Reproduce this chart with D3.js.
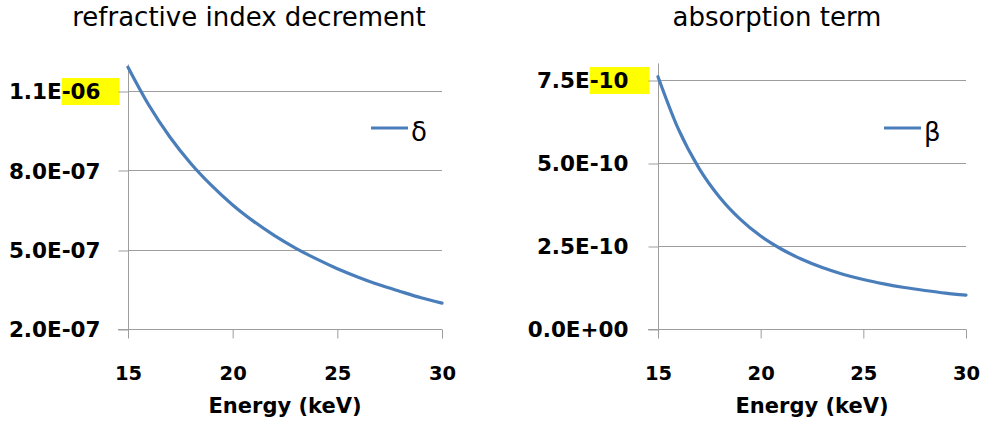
<!DOCTYPE html>
<html>
<head>
<meta charset="utf-8">
<script src="https://cdn.jsdelivr.net/npm/d3@7"></script>
<style>
  body { margin: 0; background: #fff; }
  svg { display: block; }
</style>
</head>
<body>
<div id="chart"></div>
<script>
// energies in keV (x axis of both panels)
const energy = [15, 16, 17, 18, 19, 20, 21, 22, 23, 24, 25, 26, 27, 28, 29, 30];

// delta
const delta = [1.190e-6, 1.046e-6, 0.926e-6, 0.826e-6, 0.742e-6, 0.669e-6, 0.607e-6, 0.553e-6,
  0.506e-6, 0.465e-6, 0.428e-6, 0.396e-6, 0.367e-6, 0.342e-6, 0.318e-6, 0.298e-6];

// beta
const beta = [7.60e-10, 6.01e-10, 4.84e-10, 3.97e-10, 3.31e-10, 2.80e-10, 2.41e-10, 2.10e-10,
  1.85e-10, 1.65e-10, 1.49e-10, 1.36e-10, 1.25e-10, 1.16e-10, 1.08e-10, 1.02e-10];

const xTicks = [15, 20, 25, 30];
const deltaTicks = [2e-7, 5e-7, 8e-7, 1.1e-6];
const deltaTickLabels = ['2.0E-07', '5.0E-07', '8.0E-07', '1.1E-06'];
const betaTicks = [0, 2.5e-10, 5e-10, 7.5e-10];
const betaTickLabels = ['0.0E+00', '2.5E-10', '5.0E-10', '7.5E-10'];

const W = 987, H = 430;
const lineColor = '#4A7EBB';
const gridColor = '#9d9d9d';

const svg = d3.select('#chart').append('svg')
  .attr('width', W)
  .attr('height', H);

function drawPanel(p) {
  const x = d3.scaleLinear().domain([15, 30]).range([p.left, p.right]);
  const y = d3.scaleLinear().domain(p.yDomain).range([p.bottom, p.top]);
  const g = svg.append('g');

  // title
  g.append('text')
    .attr('x', p.titleX)
    .attr('y', 26)
    .attr('text-anchor', 'middle')
    .attr('font-family', 'DejaVu Sans')
    .attr('font-size', 26)
    .attr('fill', '#000')
    .text(p.title);

  // yellow marks behind the exponent of the top label (drawn later, once text is laid out)
  const hl = g.append('g');

  // gridlines
  g.append('g')
    .selectAll('line')
    .data(p.yTicks.slice(1))
    .join('line')
    .attr('x1', p.left)
    .attr('x2', p.right)
    .attr('y1', d => Math.round(y(d)) + 0.5)
    .attr('y2', d => Math.round(y(d)) + 0.5)
    .attr('stroke', gridColor)
    .attr('stroke-width', 1);

  // y axis
  const yAxis = g.append('g')
    .attr('transform', `translate(${Math.round(p.left) + 0.5},0)`)
    .call(d3.axisLeft(y)
      .tickValues(p.yTicks)
      .tickFormat((d, i) => p.yLabels[i])
      .tickSize(10)
      .tickSizeOuter(0)
      .tickPadding(p.yPad));
  yAxis.select('.domain').remove();
  yAxis.append('line')
    .attr('x1', 0).attr('x2', 0)
    .attr('y1', p.top).attr('y2', p.bottom)
    .attr('stroke', gridColor);
  yAxis.selectAll('.tick line').attr('stroke', gridColor)
    .attr('transform', d => `translate(0,${Math.round(y(d)) + 0.5 - y(d)})`);
  yAxis.selectAll('.tick text')
    .attr('font-family', 'DejaVu Sans')
    .attr('font-weight', 'bold')
    .attr('font-size', 21.5)
    .attr('fill', '#000')
    .attr('dy', '0.37em');

  // x axis
  const xAxis = g.append('g')
    .attr('transform', `translate(0,${Math.round(p.bottom) + 0.5})`)
    .call(d3.axisBottom(x)
      .tickValues(xTicks)
      .tickFormat(d3.format('d'))
      .tickSize(9)
      .tickSizeOuter(0)
      .tickPadding(41));
  xAxis.select('.domain')
    .attr('stroke', gridColor)
    .attr('d', `M${Math.round(p.left) - 10},0H${p.right}`);
  xAxis.selectAll('.tick line').attr('stroke', gridColor);
  xAxis.selectAll('.tick text')
    .attr('font-family', 'DejaVu Sans')
    .attr('font-weight', 'bold')
    .attr('font-size', 19.5)
    .attr('fill', '#000')
    .attr('dy', null);

  // x axis title
  g.append('text')
    .attr('x', (p.left + p.right) / 2)
    .attr('y', 413)
    .attr('text-anchor', 'middle')
    .attr('font-family', 'DejaVu Sans')
    .attr('font-weight', 'bold')
    .attr('font-size', 21)
    .attr('fill', '#000')
    .text('Energy (keV)');

  // series
  const line = d3.line()
    .x((d, i) => x(energy[i]))
    .y(d => y(d))
    .curve(d3.curveMonotoneX);
  g.append('path')
    .datum(p.values)
    .attr('d', line)
    .attr('fill', 'none')
    .attr('stroke', lineColor)
    .attr('stroke-width', 3.2)
    .attr('stroke-linecap', 'round');

  // legend
  g.append('line')
    .attr('x1', p.legendX).attr('x2', p.legendX + 37)
    .attr('y1', 128).attr('y2', 128)
    .attr('stroke', lineColor)
    .attr('stroke-width', 3.2);
  g.append('text')
    .attr('x', p.legendX + 40)
    .attr('y', 141)
    .attr('font-family', 'DejaVu Sans')
    .attr('font-size', 26)
    .attr('fill', '#000')
    .text(p.legendLabel);

  // highlight the exponent part of the top tick label
  const topLabel = yAxis.selectAll('.tick text').filter(d => d === p.yTicks[p.yTicks.length - 1]).node();
  const str = topLabel.textContent;
  const start = topLabel.getStartPositionOfChar(str.indexOf('E') + 1).x;
  const yTop = Math.round(y(p.yTicks[p.yTicks.length - 1]));
  hl.append('rect')
    .attr('x', Math.round(p.left) + 0.5 + start)
    .attr('y', yTop - 13)
    .attr('width', -start - 9)
    .attr('height', 27)
    .attr('fill', '#FFFF00');
}

drawPanel({
  title: 'refractive index decrement',
  titleX: 249,
  left: 128, right: 442, top: 64.5, bottom: 329,
  yDomain: [2e-7, 1.2e-6],
  yTicks: deltaTicks,
  yLabels: deltaTickLabels,
  yPad: 18,
  values: delta,
  legendX: 371,
  legendLabel: 'δ'
});

drawPanel({
  title: 'absorption term',
  titleX: 777,
  left: 658, right: 966, top: 63.4, bottom: 329,
  yDomain: [0, 8e-10],
  yTicks: betaTicks,
  yLabels: betaTickLabels,
  yPad: 20,
  values: beta,
  legendX: 884,
  legendLabel: 'β'
});
</script>
</body>
</html>
